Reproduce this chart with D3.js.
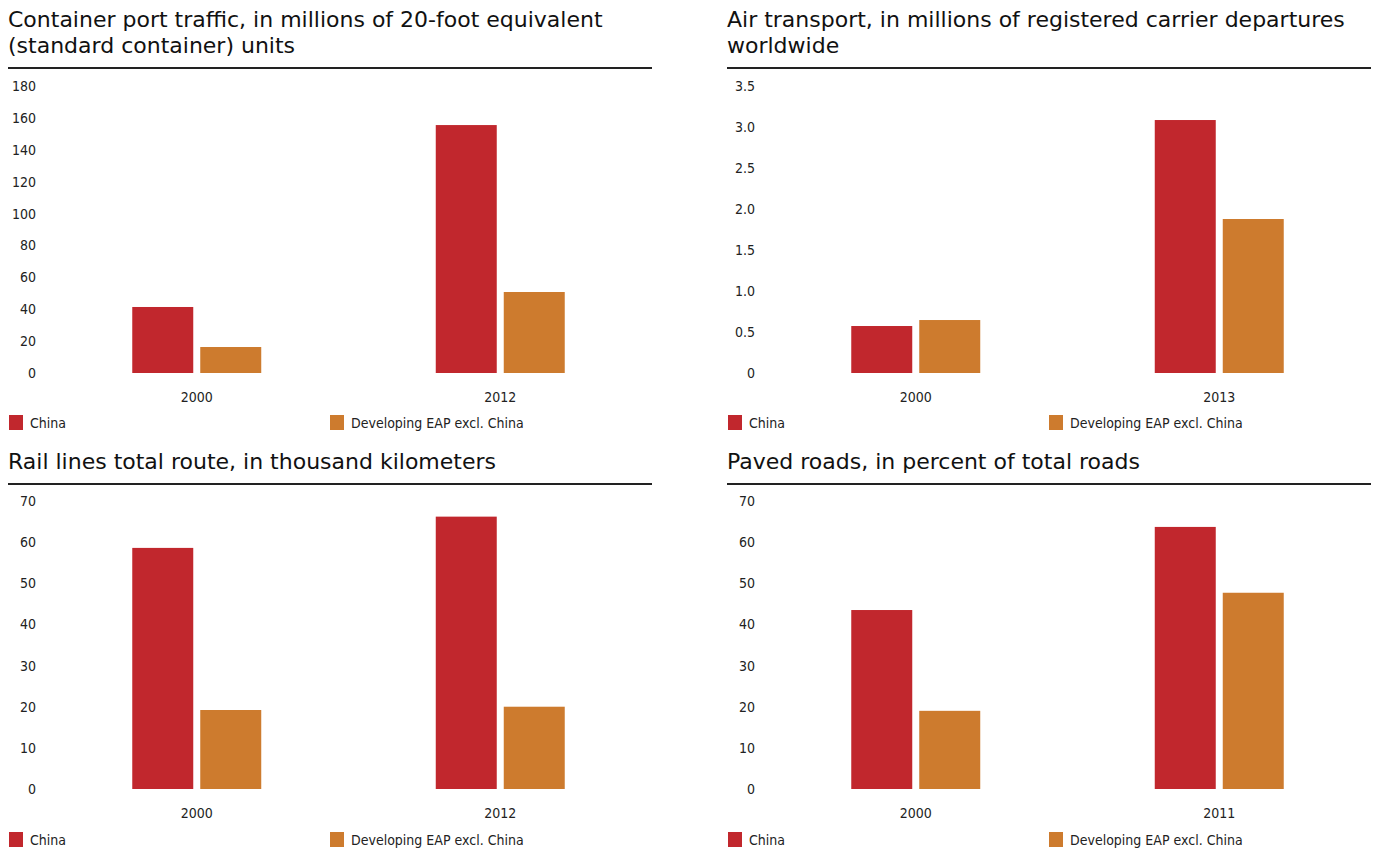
<!DOCTYPE html>
<html>
<head>
<meta charset="utf-8">
<script src="https://cdn.jsdelivr.net/npm/d3@7"></script>
<style>
  body { margin: 0; background: #fff; }
  .tick text { font-family: "Liberation Sans Narrow", "DejaVu Sans Condensed", sans-serif; font-size: 14px; fill: #222; }
</style>
</head>
<body>
<div id="wrapper"></div>
<script>
// series names
var seriesNames = ['China', 'Developing EAP excl. China']
var colors = ['#c1272d', '#cd7b2e']

// container port traffic
var portYears = ['2000', '2012']
var portChina = [41.4, 155.5]
var portEap = [16.3, 50.8]
var portTicks = [0, 20, 40, 60, 80, 100, 120, 140, 160, 180]
var portLabels = ['0', '20', '40', '60', '80', '100', '120', '140', '160', '180']

// air transport
var airYears = ['2000', '2013']
var airChina = [0.573, 3.085]
var airEap = [0.646, 1.878]
var airTicks = [0, 0.5, 1, 1.5, 2, 2.5, 3, 3.5]
var airLabels = ['0', '0.5', '1.0', '1.5', '2.0', '2.5', '3.0', '3.5']

// rail lines
var railYears = ['2000', '2012']
var railChina = [58.6, 66.2]
var railEap = [19.2, 20.0]
var railTicks = [0, 10, 20, 30, 40, 50, 60, 70]
var railLabels = ['0', '10', '20', '30', '40', '50', '60', '70']

// paved roads
var roadYears = ['2000', '2011']
var roadChina = [43.5, 63.7]
var roadEap = [19.0, 47.7]
var roadTicks = [0, 10, 20, 30, 40, 50, 60, 70]
var roadLabels = ['0', '10', '20', '30', '40', '50', '60', '70']

let svg = d3.select("#wrapper")
    .append("svg")
    .attr("width", 1383)
    .attr("height", 849)

function drawPanel(p) {
    let g = svg.append("g")
    let x0 = p.x0

    // title (one text, one tspan per line)
    g.append("text")
        .attr("font-family", "'DejaVu Sans', sans-serif")
        .attr("font-size", "22px")
        .attr("fill", "#111")
        .selectAll("tspan")
        .data(p.title)
        .enter()
        .append("tspan")
        .attr("x", x0)
        .attr("y", (d, i) => p.titleY + i * 26)
        .text(d => d)

    g.append("line")
        .attr("x1", x0).attr("x2", x0 + 644)
        .attr("y1", p.ruleY).attr("y2", p.ruleY)
        .attr("stroke", "#222")
        .attr("stroke-width", 2)

    let y = d3.scaleLinear()
        .domain([0, d3.max(p.ticks)])
        .range([p.base, p.top])

    let x = d3.scaleBand()
        .domain(p.cats)
        .range([x0 + 37, x0 + 644])
        .paddingInner(0.575)
        .paddingOuter(0.2875)

    let xs = d3.scaleBand()
        .domain(seriesNames)
        .range([0, x.bandwidth()])
        .paddingInner(0.103)

    let yAxis = g.append("g")
        .attr("transform", `translate(${x0 + 28},0)`)
        .call(d3.axisLeft(y).tickValues(p.ticks).tickFormat((d, i) => p.labels[i]).tickSize(0).tickPadding(0))
    yAxis.select(".domain").remove()

    let xAxis = g.append("g")
        .attr("transform", `translate(0,${p.base})`)
        .call(d3.axisBottom(x).tickSize(0).tickPadding(19))
    xAxis.select(".domain").remove()

    let rows = []
    p.cats.forEach((c, i) => {
        rows.push({ cat: c, s: seriesNames[0], v: p.china[i], col: colors[0] })
        rows.push({ cat: c, s: seriesNames[1], v: p.eap[i], col: colors[1] })
    })

    g.selectAll(".bar")
        .data(rows)
        .enter()
        .append("rect")
        .attr("x", d => x(d.cat) + xs(d.s))
        .attr("width", xs.bandwidth())
        .attr("y", d => y(d.v))
        .attr("height", d => y(0) - y(d.v))
        .attr("fill", d => d.col)

    // legend
    let lx = [x0 + 1, x0 + 322]
    let leg = g.selectAll(".leg")
        .data(seriesNames)
        .enter()
        .append("g")
        .attr("transform", (d, i) => `translate(${lx[i]},${p.legendY})`)
    leg.append("rect")
        .attr("x", 0).attr("y", -8)
        .attr("width", 14).attr("height", 15)
        .attr("fill", (d, i) => colors[i])
    leg.append("text")
        .attr("x", 21)
        .attr("y", 0)
        .attr("dy", "0.35em")
        .text(d => d)
        .attr("font-family", "'Liberation Sans Narrow', 'DejaVu Sans Condensed', sans-serif")
        .attr("font-size", "14px")
        .attr("fill", "#222")
}

drawPanel({ x0: 8, title: ['Container port traffic, in millions of 20-foot equivalent', '(standard container) units'],
    titleY: 27, ruleY: 68, top: 86, base: 373, legendY: 423,
    cats: portYears, china: portChina, eap: portEap, ticks: portTicks, labels: portLabels })

drawPanel({ x0: 727, title: ['Air transport, in millions of registered carrier departures', 'worldwide'],
    titleY: 27, ruleY: 68, top: 86, base: 373, legendY: 423,
    cats: airYears, china: airChina, eap: airEap, ticks: airTicks, labels: airLabels })

drawPanel({ x0: 8, title: ['Rail lines total route, in thousand kilometers'],
    titleY: 469, ruleY: 484, top: 501, base: 789, legendY: 840,
    cats: railYears, china: railChina, eap: railEap, ticks: railTicks, labels: railLabels })

drawPanel({ x0: 727, title: ['Paved roads, in percent of total roads'],
    titleY: 469, ruleY: 484, top: 501, base: 789, legendY: 840,
    cats: roadYears, china: roadChina, eap: roadEap, ticks: roadTicks, labels: roadLabels })
</script>
</body>
</html>
